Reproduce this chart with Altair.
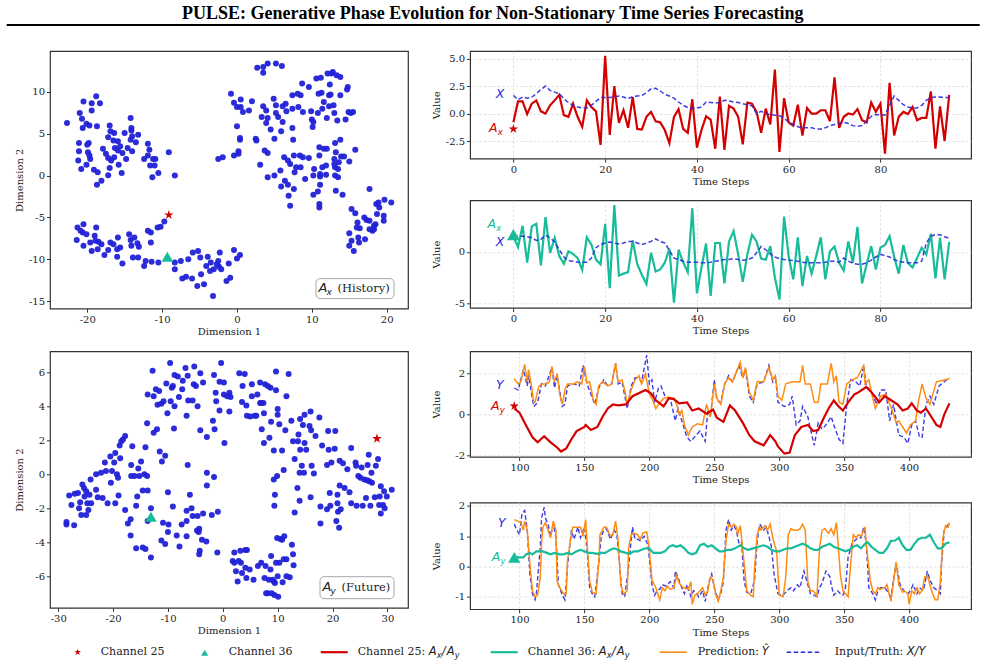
import altair as alt
import pandas as pd

TITLE = "PULSE: Generative Phase Evolution for Non-Stationary Time Series Forecasting"

# ---------------- t-SNE embeddings (Dimension 1, Dimension 2) ----------------
hist_points = [
    (-22.7, 6.3), (-21.0, 7.5), (-20.5, 8.85), (-20.7, 6.8), (-20.6, 5.7), (-21.1, 3.9), (-21.1, 2.9),
    (-21.2, 1.8), (-20.8, 0.8), (-20.1, 6.2), (-19.7, 6.0), (-19.4, 8.65), (-19.4, 7.8), (-18.8, 9.5),
    (-18.3, 8.65), (-18.7, 5.9), (-20.0, 3.7), (-19.8, 3.9), (-19.9, 2.8), (-19.7, 2.4), (-19.6, 2.0),
    (-20.1, 1.3), (-19.1, 0.7), (-18.6, 0.4), (-18.7, -1.1), (-18.1, -0.6), (-17.9, 3.2), (-17.5, 2.6),
    (-17.2, 2.1), (-17.2, 4.6), (-17.0, 6.0), (-16.9, 5.3), (-16.4, 5.1), (-15.9, 4.1), (-16.5, 4.2),
    (-16.8, 1.8), (-17.0, 0.9), (-17.2, 0.05), (-16.4, 2.2), (-16.3, 3.3), (-15.9, 3.0), (-15.6, 3.5),
    (-15.8, 1.3), (-15.4, 0.3), (-15.0, 5.1), (-14.8, 2.0), (-15.3, 2.7), (-14.6, 3.3), (-14.2, 6.9),
    (-14.1, 5.7), (-14.1, 5.4), (-14.0, 4.7), (-14.2, 4.3), (-14.0, 2.9), (-13.5, 4.0), (-13.2, 4.9),
    (-11.9, 3.8), (-11.7, 3.1), (-12.4, 2.0), (-11.9, 2.4), (-11.6, 1.2), (-11.2, 2.0), (-11.0, 1.2),
    (-10.9, 2.0), (-11.3, -0.2), (-10.5, 0.3), (-9.1, 2.8), (-8.3, 0.0),
    (-21.3, -6.2), (-21.4, -7.7), (-20.5, -5.8), (-20.6, -6.8), (-20.9, -6.6), (-20.1, -7.0), (-20.5, -8.4),
    (-19.6, -8.0), (-19.4, -9.0), (-19.0, -7.2), (-18.9, -7.8), (-18.8, -6.2), (-18.5, -7.9), (-18.6, -8.8),
    (-18.1, -8.2), (-17.7, -9.5), (-17.2, -8.9), (-16.9, -8.0), (-16.5, -8.2), (-16.0, -8.8), (-15.9, -7.4),
    (-15.6, -8.6), (-16.0, -9.7), (-15.3, -10.5), (-14.4, -7.0), (-14.2, -7.7), (-14.1, -8.4), (-13.7, -7.4),
    (-13.3, -8.1), (-13.9, -9.8), (-13.1, -8.5), (-13.2, -9.8), (-11.9, -6.6), (-11.5, -6.8), (-11.5, -8.0),
    (-12.4, -10.8), (-12.2, -10.2), (-11.4, -10.3), (-10.5, -10.4), (-10.6, -6.2), (-10.2, -6.1), (-9.7, -5.5),
    (-8.3, -10.4), (-8.3, -11.2), (-7.5, -10.2), (-7.3, -12.3), (-6.8, -12.1), (-6.5, -10.0), (-6.0, -12.3),
    (-5.9, -9.2), (-5.3, -13.2), (-5.2, -9.0), (-4.9, -9.8), (-4.8, -11.8), (-4.4, -13.0), (-4.1, -10.8),
    (-3.9, -9.7), (-3.6, -11.4), (-3.5, -10.4), (-3.2, -14.4), (-3.1, -11.2), (-2.5, -10.2), (-2.4, -10.9),
    (-2.3, -9.2), (-2.1, -11.2), (-2.7, -10.6), (-1.4, -12.6), (-1.1, -10.5), (-0.9, -12.2), (-0.4, -8.9),
    (0.0, -9.9), (0.4, -9.5),
    (2.7, 12.9), (3.5, 13.0), (3.5, 12.3), (4.1, 13.4), (5.2, 13.4), (6.0, 13.1), (-0.8, 9.8), (-0.4, 8.7),
    (0.0, 8.2), (0.5, 9.1), (0.5, 8.2), (0.8, 7.6), (1.6, 7.8), (2.0, 8.9), (0.0, 5.9), (0.4, 4.5), (0.4, 4.3),
    (0.2, 2.9), (-0.4, 2.4), (0.2, 2.6), (-2.5, 2.0), (-1.9, 2.2), (2.5, 4.4), (2.6, 4.2), (3.1, 1.3),
    (3.3, 7.0), (3.5, 8.3), (3.9, 7.8), (3.7, 3.0), (4.1, 2.7), (3.9, 6.3), (4.1, 6.9), (4.1, -0.2),
    (4.5, 5.5), (4.9, 9.2), (5.2, 8.4), (5.2, 7.5), (5.5, 7.0), (5.0, 4.4), (5.0, 0.0), (5.8, 0.6), (5.9, 5.3),
    (6.1, 6.4), (6.1, 8.3), (6.5, 8.6), (6.6, 7.7), (6.3, 2.2), (5.9, -1.3), (6.4, -0.6), (6.8, -1.1),
    (6.9, -2.4), (7.1, -3.6), (6.8, 1.8), (7.1, 1.4), (7.4, 8.0), (7.4, 5.7), (7.5, 4.3), (7.4, 9.6),
    (7.6, 2.4), (7.7, 0.4), (7.9, 1.0), (7.6, -1.6), (8.1, 9.8), (8.2, 8.2), (8.4, 2.4), (8.5, 1.0),
    (8.5, 9.6), (8.7, 11.0), (8.8, 7.6), (8.8, 2.2), (9.1, -0.4), (9.6, 2.1), (9.6, 10.6), (9.9, 7.7),
    (10.0, 6.7), (10.1, 5.8), (10.2, 6.4), (10.3, 0.8), (10.2, 0.0), (10.2, -2.3), (10.6, 11.6), (10.8, -1.9),
    (10.8, 7.5), (10.9, 9.8), (11.0, 2.4), (11.0, 3.4), (11.1, 0.2), (11.1, -0.1), (11.1, -1.1), (11.0, -3.4),
    (11.0, -3.8), (11.2, 11.7), (11.3, 9.9), (11.6, 8.8), (11.4, 8.0), (11.4, 1.0), (11.6, 3.2), (11.9, 1.2),
    (12.0, 3.2), (12.0, 6.9), (11.9, 0.1), (12.1, 12.2), (12.3, 9.6), (12.3, 8.3), (12.4, 10.9), (12.5, 9.7),
    (12.6, 12.2), (12.8, 12.4), (12.9, 8.4), (13.0, 7.5), (13.0, 2.0), (13.0, 1.4), (13.1, 3.9), (13.2, 2.8),
    (13.1, 1.0), (13.1, 0.0), (13.2, -1.8), (13.3, 12.0), (13.4, 6.6), (13.5, -0.2), (13.8, 4.3), (13.8, 11.8),
    (13.8, 9.6), (13.5, 0.8), (13.9, 2.3), (13.6, 1.6), (14.1, -2.3), (14.3, 2.3), (14.5, 6.7), (14.7, 10.3),
    (14.8, 10.6), (14.9, 7.6), (15.0, 1.7), (15.2, 7.5), (15.5, 7.6), (15.8, 3.1), (17.7, -1.6),
    (15.0, -6.9), (15.3, -4.0), (15.8, -4.5), (15.0, -8.4), (15.3, -7.8), (15.6, -9.0), (16.0, -6.2),
    (16.1, -5.6), (16.2, -7.4), (16.3, -8.0), (16.4, -6.3), (17.0, -5.0), (17.1, -7.6), (17.3, -5.3),
    (17.7, -5.4), (17.7, -6.4), (18.1, -6.6), (18.3, -6.4), (18.5, -5.8), (18.6, -3.4), (18.7, -4.6),
    (18.9, -3.2), (19.0, -3.8), (19.6, -4.8), (19.6, -5.4), (19.7, -2.9), (20.6, -3.2), (18.3, -6.0),
]
hist_ch25 = (-9.1, -4.7)
hist_ch36 = (-9.3, -9.7)

fut_points = [
    (-28.5, -2.8), (-28.5, -2.95), (-27.1, -3.0), (-28.0, -1.25), (-27.6, -1.8), (-27.0, -1.15), (-26.4, -1.1),
    (-26.2, -2.0), (-26.0, -1.65), (-25.8, -2.4), (-25.6, -0.6), (-25.3, -0.8), (-25.2, -1.3), (-24.9, -1.0),
    (-24.9, -2.4), (-24.7, -1.7), (-24.5, -2.1), (-24.3, -1.2), (-24.1, -0.3), (-24.0, -1.7), (-23.1, 0.0),
    (-23.1, -0.9), (-22.8, -1.35), (-22.2, 0.1), (-21.9, -1.4), (-21.5, 0.7), (-21.3, 0.2), (-21.0, -1.7),
    (-20.5, 1.05), (-20.4, -0.5), (-20.2, 0.2), (-19.8, 0.7), (-19.6, -1.7), (-19.6, 1.25), (-19.3, 0.0),
    (-19.1, -0.2), (-19.0, -1.25), (-18.8, 1.7), (-18.7, 0.95), (-18.5, 1.95), (-18.2, 2.05), (-17.8, 2.25),
    (-17.8, -2.1),
    (-17.3, -2.9), (-16.8, -2.65), (-16.8, -3.6), (-16.7, 0.55), (-16.7, -0.1), (-16.5, 1.65), (-16.1, -0.1),
    (-15.8, -1.85), (-15.8, -4.35), (-15.6, -1.3), (-15.4, 0.35), (-15.2, -0.1), (-14.9, 0.75), (-14.6, -0.95),
    (-14.3, 0.0), (-14.6, -4.3), (-14.1, 1.6), (-14.1, -4.4), (-13.8, -0.1), (-13.8, 3.0), (-13.7, -0.95),
    (-13.7, -2.75), (-13.7, 4.7), (-13.1, -4.9), (-13.1, -2.0), (-12.8, 6.1), (-12.6, 4.6), (-12.6, 2.45),
    (-12.2, 5.0), (-12.0, 2.65), (-11.9, 4.1), (-11.6, 4.9), (-11.5, 1.35), (-11.2, 4.15), (-11.1, 0.75),
    (-10.9, -2.85), (-10.8, 4.3), (-10.5, 1.1), (-11.2, -3.9), (-10.5, -4.1), (-10.3, 5.35), (-10.1, 3.6),
    (-10.0, -1.05), (-9.9, -2.95), (-10.0, -3.4), (-9.6, 6.55), (-9.5, 4.3), (-9.3, 5.1), (-9.1, 5.2),
    (-9.1, -1.9), (-8.9, 2.7), (-8.8, 4.0), (-8.8, 5.85), (-8.4, -3.6), (-8.2, 5.75), (-8.0, 4.55),
    (-7.9, -4.25), (-7.5, -2.95), (-7.4, 5.0), (-7.3, 5.5), (-6.8, 6.25), (-6.6, 3.45), (-6.6, -2.15),
    (-6.6, -3.65), (-6.6, -2.75), (-6.4, 0.55), (-6.4, 5.8), (-6.3, 4.35), (-6.0, -1.2), (-5.7, -2.0),
    (-5.5, -2.45), (-5.5, 4.35), (-5.3, 5.3), (-5.2, 6.35), (-4.9, 5.2), (-4.7, -3.3), (-4.6, -2.45),
    (-4.6, 4.0), (-4.4, -3.4), (-4.3, -3.2), (-4.3, -4.7), (-4.2, -4.5), (-4.1, 5.95), (-4.1, 2.6),
    (-3.8, -3.85), (-3.6, -2.3), (-3.6, 5.4), (-3.0, -3.95), (-2.9, 2.2), (-2.9, -0.65), (-2.9, 0.1),
    (-2.0, -2.4), (-1.8, 3.15), (-1.6, -0.15), (-1.5, 2.65), (-1.6, 5.85), (-1.3, 4.8), (-1.2, 4.3),
    (-1.0, -4.6), (-0.9, -2.2), (-0.6, 5.45), (-0.6, 3.75), (-0.3, 6.55), (0.2, 5.4), (0.2, 4.7), (0.3, 1.85),
    (0.8, 4.6), (1.2, 4.8), (1.2, 3.7), (1.4, 4.55),
    (1.8, -5.1), (2.1, -4.6), (2.1, -5.2), (2.4, -5.7), (2.7, -6.3), (2.9, -5.1), (3.2, -4.5), (3.3, -5.2),
    (3.5, -5.8), (4.1, -4.45), (4.1, -5.5), (4.3, -6.1), (4.4, -4.45), (4.9, -5.6), (5.6, -6.2), (6.4, -5.4),
    (7.0, -5.2), (7.6, -6.1), (7.8, -5.4), (7.9, -7.0), (8.2, -7.0), (8.4, -6.2), (8.7, -5.6), (8.8, -4.8),
    (8.9, -7.0), (9.1, -6.2), (9.3, -6.3), (9.4, -7.1), (9.5, -6.4), (9.7, -5.2), (9.9, -3.75), (10.0, -6.0),
    (10.1, -7.2), (10.3, -5.2), (10.5, -3.8), (10.8, -3.85), (10.9, -6.35), (11.1, -5.0), (11.2, -3.65),
    (11.6, -5.0), (11.6, -6.0), (12.2, -6.05), (12.6, -4.15), (12.8, -4.7), (12.9, -5.35),
    (3.0, 5.95), (4.0, 5.9), (3.6, 5.2), (3.5, 4.25), (4.3, 4.05), (4.4, 3.45), (5.0, 3.4), (5.3, 5.3),
    (5.3, 4.6), (5.8, 3.45), (6.1, 3.45), (6.3, 4.7), (6.8, 5.4), (6.8, 4.2), (7.0, 4.2), (7.4, 4.2),
    (7.5, 3.6), (7.1, 2.65), (7.5, 1.85), (7.7, 5.3), (8.2, 5.2), (8.5, 2.15), (8.7, 5.1), (8.8, 3.1),
    (9.3, 1.4), (9.3, -0.3), (9.4, -1.85), (9.5, -1.2), (9.7, 6.05), (9.7, 4.95), (9.9, -0.1), (10.0, 3.5),
    (10.0, 3.85), (10.3, 2.95), (10.8, 1.4), (11.1, 0.25), (11.4, 2.6), (11.6, 4.6), (12.0, 5.9), (12.5, 3.15),
    (12.8, 1.95), (13.1, 0.9), (13.1, -2.25), (13.6, -0.8), (13.7, 1.95), (13.8, 2.35), (14.0, -1.55),
    (14.0, 0.1), (14.1, 3.25), (14.1, 1.45), (14.4, 0.5), (14.6, 2.9), (14.8, 0.1), (14.9, 1.85), (14.9, 3.5),
    (15.2, 1.45), (15.8, 2.85), (16.0, 3.7), (16.0, -1.35), (16.1, 2.6), (16.2, 0.5), (16.6, 0.05),
    (16.9, 2.25), (17.6, 3.35), (17.8, -2.9), (17.8, -1.9), (18.1, 1.7), (19.0, -2.05), (19.0, 0.55),
    (19.2, 2.55), (19.3, 1.45), (19.5, -1.1), (19.6, -1.85), (19.8, 0.7), (20.4, 1.5), (20.5, 2.55),
    (20.7, -2.75), (20.9, -1.2), (20.9, -1.7), (21.0, -2.2), (21.2, -3.15), (21.3, -0.65), (21.3, 0.8),
    (21.5, -2.05), (21.9, 0.65), (22.2, -0.8), (22.7, 0.3), (23.1, -1.05), (23.4, 1.55), (23.4, -1.7),
    (24.2, 0.7), (24.3, 0.5), (24.4, -1.85), (24.7, -0.1), (25.1, -0.2), (25.3, 0.4), (25.5, -1.85),
    (25.8, -0.3), (26.1, -1.4), (26.3, -0.35), (26.4, 0.55), (26.6, 1.15), (26.7, -0.4), (26.9, -1.85),
    (27.1, 0.1), (27.2, -0.5), (27.7, -1.35), (27.9, 0.5), (28.3, 0.9), (28.5, -1.8), (28.6, -1.3),
    (28.8, -0.7), (28.8, -2.3), (29.2, -1.8), (29.4, -1.0), (29.5, -2.0), (29.9, -1.3), (30.8, -0.9),
]
fut_ch25 = (28.1, 2.1)
fut_ch36 = (-13.1, -2.5)

# ---------------- history window (t = 0 .. 95) ----------------
hist_ch25_values = [
    -0.8, 1.1, 1.1, -0.05, 0.9, 1.2, 0.2, 0.0, 0.75, 1.2,
    1.7, -0.15, -0.3, 0.9, -0.3, -1.2, 1.2, 0.6, 0.2, -2.85,
    5.25, -1.95, 2.5, -0.85, 0.3, -1.3, 1.5, -1.4, -1.45, -0.3,
    0.15, -0.7, -0.8, -1.5, -2.7, -0.3, 0.4, -1.4, -1.75, 1.3,
    -3.1, -1.5, -0.25, -0.55, -3.2, 1.55, -3.3, 0.7, 0.45, -0.3,
    -2.8, 1.0, 0.9, 0.15, -1.75, 0.45, -1.0, 4.0, -3.5, 1.4,
    -0.8, -1.1, 0.8, -2.0, 0.5, 0.0, 0.0, 0.3, 0.3, -0.7,
    3.3, -1.3, -0.3, 0.0, -0.1, 0.4, -0.6, -0.8, 1.0, 0.15,
    0.9, -3.65, 2.8, -2.0, -0.3, 0.15, -0.05, 0.6, -0.6, -0.4,
    -0.4, 2.0, -3.2, 0.65, -2.5, 1.7,
]
hist_x25_values = [
    1.65, 1.25, 1.5, 1.4, 1.5, 1.8, 2.2, 2.5, 2.1, 1.95,
    1.8, 1.35, 1.0, 0.75, 0.6, 0.5, 0.5, 0.75, 1.1, 1.45,
    1.45, 1.45, 1.5, 1.6, 1.5, 1.35, 1.55, 1.6, 1.65, 1.9,
    2.25, 2.3, 2.05, 1.75, 1.6, 1.4, 1.05, 0.75, 0.55, 0.45,
    0.5, 0.6, 1.05, 1.0, 0.95, 1.0, 1.2, 1.15, 1.05, 1.0,
    0.9, 0.8, 0.7, 0.0, 0.2, 0.0, -0.1, -0.15, -0.2, -0.4,
    -0.8, -1.0, -1.2, -1.3, -1.3, -1.3, -1.4, -1.4, -1.3, -1.1,
    -1.0, -0.9, -0.8, -0.9, -1.1, -1.15, -1.1, -0.7, -0.25, -0.1,
    -0.1, -0.15, 0.75, 1.6, 1.2, 0.8, 0.6, 0.5, 0.5, 0.75,
    1.2, 1.45, 1.5, 1.5, 1.45, 1.45,
]
hist_ch36_values = [
    1.5, 0.45, 2.5, -1.05, 2.45, 2.7, -1.3, 3.35, -0.1, 1.35,
    -0.4, -1.15, 0.05, -0.2, -0.6, -1.75, 1.4, 0.7, -0.75, -1.2,
    2.7, -3.5, 4.5, -2.3, -2.1, -1.95, 1.1, -1.2, -2.2, -3.1,
    -0.1, -1.9, -1.7, -1.05, 0.3, -4.9, 0.2, -1.0, -1.95, 4.2,
    -4.0, -1.5, 0.8, -4.25, 0.85, 0.85, -3.05, 1.0, 2.0, -0.25,
    -2.9, -0.25, 1.65, 1.0, -0.65, -0.75, 0.55, -2.5, -4.6, 3.4,
    -0.4, -2.65, 1.4, -3.3, -0.4, -2.1, -0.4, 1.4, -2.65, 0.05,
    0.5, -1.05, -1.8, 1.0, -1.05, 2.4, -3.05, -1.2, 0.55, -1.7,
    0.4, 0.65, 1.5, -0.5, -2.1, 0.65, -1.1, -1.5, -0.6, 0.4,
    -0.25, 1.75, -2.55, 1.35, -2.65, 0.95,
]
hist_x36_values = [
    1.5, 1.5, 1.5, 1.45, 1.35, 1.1, 1.2, 1.6, 1.35, 0.95,
    0.2, -0.5, -0.85, -0.9, -1.0, -1.0, -1.0, -0.6, 0.4, 0.7,
    0.85, 0.95, 0.85, 0.75, 0.85, 1.0, 1.0, 0.85, 0.7, 0.85,
    1.0, 1.25, 1.0, 0.85, 0.15, -0.6, -0.75, -0.9, -1.0, -1.0,
    -1.0, -1.05, -1.05, -1.0, -0.9, -0.85, -0.75, -0.75, -0.65, -0.75,
    -0.8, -0.75, -0.6, -0.1, 0.5, 0.2, -0.2, -0.5, -0.65, -0.75,
    -0.8, -0.85, -0.9, -1.0, -1.05, -1.05, -1.05, -1.05, -1.0, -0.9,
    -0.9, -1.0, -0.6, -0.9, -1.1, -1.2, -1.2, -1.05, -0.8, -0.5,
    -0.25, -0.35, -0.5, -0.75, -0.9, -1.0, -1.05, -1.05, -1.05, -0.9,
    0.85, 1.5, 1.65, 1.65, 1.45, 1.3,
]
hist_steps = list(range(len(hist_ch25_values)))

# ---------------- forecast window (t = 96 .. 431) as (step, value) ----------------
fut_ch25_curve = [
    (96, 0.3), (100, 0.1), (104, -0.4), (110, -1.1), (114, -1.35), (119, -1.05), (124, -1.35), (129, -1.6),
    (132, -1.8), (136, -1.65), (140, -1.2), (144, -0.8), (150, -0.6), (151, -0.5), (155, -0.75), (160, -0.6),
    (164, -0.1), (168, 0.3), (172, 0.5), (176, 0.45), (182, 0.5), (187, 0.9), (197, 1.2), (201, 1.05),
    (205, 0.7), (211, 0.4), (215, 0.8), (219, 0.75), (223, 0.55), (229, 0.6), (233, 0.2), (238, 0.3),
    (244, 0.05), (249, 0.25), (252, -0.15), (257, -0.35), (262, 0.45), (266, 0.2), (272, -0.4), (277, -1.0),
    (281, -1.3), (288, -1.5), (293, -1.0), (297, -1.3), (299, -1.55), (304, -1.9), (308, -1.85), (312, -1.0),
    (317, -0.6), (322, -0.5), (326, -0.8), (330, -0.75), (334, -0.2), (338, 0.3), (342, 0.7), (345, 0.45),
    (349, 0.2), (353, 0.6), (358, 1.0), (360, 1.05), (367, 1.35), (371, 1.1), (374, 0.85), (377, 0.6),
    (381, 0.9), (385, 0.75), (391, 0.5), (395, 0.2), (399, 0.3), (402, 0.55), (406, 0.2), (409, 0.1),
    (413, 0.3), (421, -0.5), (424, -0.6), (427, 0.0), (431, 0.55),
]
fut_truth25_curve = [
    (96, 1.3), (99, 1.2), (103, 2.2), (106, 1.4), (107, 1.9), (111, 0.4), (114, 0.6), (117, 1.5), (120, 1.4),
    (125, 2.3), (127, 1.3), (129, 1.9), (133, 0.4), (135, 0.5), (137, 1.4), (142, 1.5), (146, 1.4), (149, 2.4),
    (152, 1.5), (155, 1.0), (158, 0.5), (161, 1.3), (165, 1.7), (168, 1.4), (171, 1.5), (174, 2.5), (176, 1.5),
    (179, 1.6), (183, 0.3), (186, 1.4), (189, 1.8), (192, 1.8), (194, 1.6), (198, 2.9), (200, 1.5), (202, 1.7),
    (204, 0.6), (207, 1.3), (209, 1.4), (212, 0.9), (216, 0.8), (220, -0.3), (222, 0.3), (225, -0.3),
    (229, -1.1), (232, -1.3), (236, -1.0), (239, -0.8), (243, -1.3), (245, 0.2), (247, -0.1), (250, 1.7),
    (252, 0.7), (255, 0.6), (258, 1.5), (261, 1.9), (264, 1.6), (269, 2.4), (272, 1.8), (274, 2.2), (277, 0.9),
    (280, 0.6), (283, 1.5), (288, 1.6), (292, 2.4), (295, 1.6), (297, 1.9), (299, 0.6), (304, 0.4), (308, 0.5),
    (310, 0.9), (313, -0.5), (316, -0.3), (318, 0.4), (322, -0.1), (324, -0.7), (327, -1.5), (330, -0.4),
    (333, -0.7), (336, -0.5), (340, -0.1), (342, -0.5), (346, -1.2), (349, -1.4), (352, 0.5), (355, 1.7),
    (359, 1.6), (362, 1.4), (365, 2.4), (367, 1.4), (370, 1.2), (373, 0.8), (375, 0.5), (378, 1.2), (382, 1.2),
    (385, -0.3), (388, 0.5), (392, -1.0), (396, -1.1), (399, -1.4), (402, -0.5), (405, -0.3), (408, -1.1),
    (410, -1.1), (413, 0.5), (416, 0.9), (419, 0.5), (423, 1.4), (431, 1.8),
]
fut_pred25_curve = [
    (96, 1.75), (99, 1.5), (101, 1.6), (104, 2.45), (106, 1.6), (107, 2.2), (109, 1.5), (111, 0.6), (112, 0.6),
    (115, 1.4), (118, 1.5), (121, 1.5), (123, 1.6), (125, 2.35), (127, 1.6), (129, 2.0), (131, 1.0), (133, 0.5),
    (135, 1.2), (137, 1.5), (142, 1.5), (144, 1.6), (148, 1.5), (150, 2.35), (152, 1.55), (154, 1.6), (157, 0.7),
    (159, 0.5), (161, 1.4), (164, 1.6), (168, 1.4), (171, 1.5), (174, 2.5), (176, 1.6), (179, 1.7), (181, 1.2),
    (183, 0.5), (186, 1.2), (189, 1.7), (192, 1.9), (194, 1.5), (197, 2.0), (200, 1.0), (202, 0.8), (205, 0.3),
    (207, 0.5), (211, 0.8), (215, 0.85), (219, 0.8), (221, 0.5), (223, 0.0), (225, 0.2), (227, -0.5),
    (230, -1.0), (233, -0.6), (237, -0.45), (241, -0.5), (244, 0.5), (247, -0.1), (250, 1.5), (252, 0.8),
    (255, 0.5), (258, 1.5), (261, 1.8), (264, 1.6), (270, 2.55), (272, 1.8), (274, 2.3), (277, 1.1), (280, 0.7),
    (283, 1.6), (288, 1.6), (292, 2.3), (295, 1.7), (297, 1.9), (299, 0.9), (302, 0.7), (305, 1.5), (310, 1.6),
    (316, 1.6), (318, 2.4), (320, 1.5), (324, 1.5), (327, 0.6), (330, 0.6), (332, 1.5), (337, 1.5), (340, 2.5),
    (342, 1.6), (344, 1.9), (346, 0.6), (349, 0.5), (352, 1.5), (356, 1.7), (360, 1.8), (365, 2.4), (366, 1.5),
    (369, 1.7), (372, 0.8), (374, 0.3), (378, 0.9), (382, 1.0), (387, 0.2), (390, -0.4), (392, -0.3),
    (398, -0.9), (401, -0.5), (405, -0.3), (407, 0.6), (410, 1.5), (413, 0.8), (416, 0.5), (421, 1.6), (431, 1.75),
]
fut_ch36_curve = [
    (96, 0.32), (100, 0.3), (103, 0.3), (105, 0.4), (108, 0.45), (110, 0.4), (113, 0.5), (118, 0.5), (121, 0.45),
    (124, 0.4), (127, 0.45), (131, 0.4), (134, 0.4), (137, 0.45), (140, 0.4), (144, 0.5), (147, 0.55), (150, 0.5),
    (153, 0.45), (156, 0.45), (160, 0.42), (163, 0.45), (166, 0.45), (170, 0.55), (173, 0.6), (176, 0.55),
    (178, 0.5), (182, 0.45), (185, 0.42), (188, 0.5), (191, 0.5), (194, 0.55), (197, 0.6), (200, 0.6),
    (203, 0.45), (206, 0.45), (209, 0.45), (212, 0.5), (215, 0.65), (218, 0.7), (221, 0.65), (224, 0.7),
    (227, 0.6), (230, 0.45), (233, 0.4), (236, 0.45), (239, 0.7), (242, 0.75), (245, 0.65), (248, 0.7),
    (251, 0.6), (254, 0.5), (257, 0.5), (260, 0.55), (263, 0.55), (266, 0.6), (270, 0.7), (273, 0.6),
    (276, 0.55), (280, 0.6), (284, 0.65), (288, 0.7), (291, 0.65), (294, 0.55), (297, 0.5), (300, 0.5),
    (303, 0.55), (306, 0.6), (309, 0.6), (312, 0.65), (315, 0.7), (318, 0.75), (321, 0.7), (324, 0.6),
    (327, 0.55), (330, 0.55), (333, 0.65), (336, 0.7), (339, 0.75), (342, 0.65), (345, 0.6), (348, 0.55),
    (351, 0.5), (354, 0.55), (357, 0.65), (360, 0.7), (363, 0.6), (366, 0.75), (368, 0.8), (371, 0.65),
    (374, 0.55), (377, 0.45), (380, 0.45), (383, 0.6), (386, 0.85), (389, 0.85), (392, 0.95), (395, 0.7),
    (398, 0.55), (401, 0.55), (404, 0.75), (407, 0.9), (410, 0.95), (413, 0.95), (416, 1.05), (419, 0.8),
    (422, 0.6), (425, 0.6), (428, 0.75), (431, 0.8),
]
fut_truth36_curve = [
    (96, 1.4), (98, 1.2), (100, 1.05), (102, 1.75), (104, 1.85), (106, 1.2), (108, -0.25), (110, -0.9),
    (112, -1.1), (113, -0.9), (116, 0.6), (117, 1.6), (119, 1.95), (120, 1.6), (122, 1.4), (124, 1.0),
    (126, 1.4), (128, 1.0), (130, -0.6), (133, -0.95), (135, -1.1), (137, 0.0), (140, 1.2), (142, 0.9),
    (145, 1.3), (147, 0.95), (150, 1.3), (152, 0.6), (154, -0.7), (156, -0.9), (158, -1.0), (161, 0.1),
    (163, 1.0), (165, 1.2), (167, 1.25), (170, 0.9), (173, 1.2), (175, 1.05), (177, 0.1), (179, -0.9),
    (181, -1.0), (184, 0.0), (187, 1.3), (189, 0.9), (191, 0.9), (193, 0.85), (196, 1.0), (199, 0.7),
    (202, -0.6), (204, -0.95), (206, -0.8), (208, -0.75), (210, -0.6), (213, -0.65), (216, -0.5), (219, -0.7),
    (220, -0.15), (222, -0.35), (224, -0.6), (227, -0.9), (229, -0.6), (232, -1.0), (234, -0.8), (236, -0.85),
    (238, -1.0), (241, -0.8), (243, -1.15), (246, -0.5), (248, -0.25), (250, -0.7), (253, -1.1), (255, -0.9),
    (257, -0.5), (259, 1.2), (261, 1.55), (263, 1.2), (265, 1.35), (267, 1.2), (269, 0.75), (271, 0.8),
    (273, -0.5), (275, -0.85), (278, -0.9), (281, -0.45), (283, 0.85), (285, 1.4), (288, 1.2), (290, 1.3),
    (292, 1.0), (294, 0.65), (296, -0.25), (299, -0.9), (302, -0.95), (304, -0.9), (306, -0.8), (309, -0.7),
    (311, -0.8), (314, -0.6), (316, -0.7), (319, -0.15), (321, -0.45), (324, -0.9), (327, -0.95), (329, -1.0),
    (331, -0.7), (333, -0.55), (336, -0.15), (339, -0.35), (340, -0.6), (342, -0.95), (345, -0.8), (347, -0.9),
    (349, -0.95), (351, -0.7), (353, 0.3), (356, 0.75), (358, 0.85), (361, 0.95), (363, 0.95), (365, 1.3),
    (367, 0.75), (369, -0.7), (372, -0.9), (374, -1.1), (376, -0.8), (378, -0.7), (381, -0.7), (383, -0.8),
    (386, -1.0), (388, -0.45), (390, 0.1), (393, -0.6), (396, -0.8), (399, -0.9), (401, -0.8), (403, -0.6),
    (406, -0.9), (408, -0.7), (411, -0.8), (414, -0.15), (416, -0.45), (419, -0.7), (422, -0.8), (424, -0.9),
    (425, 0.1), (427, 1.2), (429, 1.3), (431, 1.45),
]
fut_pred36_curve = [
    (96, 1.55), (101, 1.45), (103, 1.2), (104, 1.5), (106, 1.2), (108, 0.1), (110, -0.8), (112, -1.0),
    (114, -0.95), (116, -0.35), (117, 0.75), (118, 1.3), (120, 1.45), (122, 1.2), (124, 0.95), (126, 1.5),
    (128, 1.2), (129, -0.5), (131, -0.7), (134, -0.9), (136, -0.9), (137, 0.2), (139, 0.8), (141, 1.3),
    (144, 1.3), (147, 1.3), (149, 1.0), (151, 1.55), (152, 0.8), (154, -0.45), (156, -0.85), (159, -0.9),
    (161, 0.1), (162, 1.05), (165, 1.3), (167, 1.3), (170, 1.0), (172, 1.05), (174, 1.5), (176, 0.85),
    (178, -0.6), (180, -0.9), (183, -0.8), (184, 0.6), (186, 1.05), (188, 1.1), (191, 1.05), (193, 0.9),
    (195, 1.1), (198, 1.15), (200, 0.55), (202, -0.45), (205, -0.7), (208, -1.1), (210, -0.7), (212, -0.8),
    (214, -0.65), (216, -0.75), (219, -0.7), (221, -0.3), (223, -0.55), (226, -0.7), (227, -0.7), (230, -0.75),
    (232, -0.5), (233, -1.25), (235, -0.95), (237, -0.9), (239, -0.8), (241, -0.7), (243, -0.95), (245, -0.8),
    (247, -0.35), (249, -0.45), (251, -0.9), (253, -1.15), (255, -0.8), (257, -0.35), (259, 0.85), (261, 1.4),
    (263, 1.3), (265, 1.4), (267, 1.3), (268, 1.05), (270, 1.35), (273, 0.1), (275, -0.8), (278, -0.95),
    (280, -1.0), (281, -0.05), (283, 1.05), (285, 1.3), (286, 1.2), (289, 1.35), (291, 1.2), (293, 1.4),
    (295, 0.95), (298, 0.5), (299, -0.25), (300, -0.95), (303, -1.0), (305, -0.35), (307, 1.05), (309, 1.25),
    (311, 1.2), (314, 1.2), (316, 1.25), (318, 1.4), (320, 1.2), (322, -0.5), (324, -0.8), (326, -0.8),
    (328, -0.9), (329, -1.0), (331, 0.6), (333, 1.2), (335, 1.25), (338, 1.1), (340, 1.25), (342, 1.05),
    (344, 1.45), (345, 0.95), (347, -0.25), (349, -0.8), (351, -0.9), (353, -1.0), (355, 0.1), (357, 1.05),
    (359, 0.95), (361, 1.05), (363, 1.0), (366, 1.3), (367, 0.75), (370, -0.45), (372, -0.8), (374, -0.9),
    (376, -0.7), (378, -0.75), (381, -0.7), (383, -0.6), (384, -0.8), (386, -1.15), (388, -0.5), (390, 0.15),
    (392, -0.6), (395, -0.85), (396, -0.8), (399, -0.9), (400, -1.25), (402, -0.8), (404, -0.9), (406, -0.7),
    (408, -0.9), (410, -0.8), (412, -0.35), (414, -0.3), (416, -0.6), (418, -0.9), (420, -1.1), (422, -1.1),
    (424, -0.5), (426, 0.95), (428, 1.35), (430, 1.3), (431, 1.45),
]

# ---------------- styling ----------------
PT_BLUE = "#2121d6"
LINE_BLUE = "#2828e0"
RED = "#d40000"
TEAL = "#17bc9b"
ORANGE = "#ff8c12"
FRAME = "#333333"
GRID = "#d4d4d4"
SERIF = "DejaVu Serif"
MATH = "DejaVu Sans"
STAR = ("M0,-1L0.2245,-0.309L0.951,-0.309L0.363,0.118L0.588,0.809L0,0.382"
        "L-0.588,0.809L-0.363,0.118L-0.951,-0.309L-0.2245,-0.309Z")
ONE = pd.DataFrame({"k": [0]})

# layout (pixels)
X_EXTENT = 15          # tick + label band under every panel
Y_EXT_SCATTER = 23     # tick + label band left of the embedding panels
Y_EXT_SERIES = 26      # tick + label band left of the time-series panels
LEFT_REACH = 43.3      # left margin reserved beside the embedding panels
ORIGIN_X = 49.3        # page x of the embedding panels' left edge
FULL_W = 923.4         # width spanned by the panel grid


def hyphen_labels(fmt):
    return f"replace(format(datum.value, '{fmt}'), '\u2212', '-')"


def marker(df, xe, ye, shape, size, color):
    return alt.Chart(df).mark_point(shape=shape, size=size, filled=True, fill=color,
                                    color=color, opacity=1, strokeWidth=0).encode(x=xe, y=ye)


def scatter_panel(points, ch25, ch36, xdom, ydom, xticks, yticks, w, h,
                  tag_box, tag_sub, tag_word, star_size, tri_size):
    df = pd.DataFrame(points, columns=["d1", "d2"])
    xe = alt.X("d1:Q", scale=alt.Scale(domain=xdom, nice=False, zero=False),
               axis=alt.Axis(values=xticks, title="Dimension 1", labelExpr=hyphen_labels("d"),
                             minExtent=X_EXTENT, maxExtent=X_EXTENT))
    ye = alt.Y("d2:Q", scale=alt.Scale(domain=ydom, nice=False, zero=False),
               axis=alt.Axis(values=yticks, title="Dimension 2", labelExpr=hyphen_labels("d"),
                             minExtent=Y_EXT_SCATTER, maxExtent=Y_EXT_SCATTER))
    dots = alt.Chart(df).mark_circle(size=36, color=PT_BLUE, opacity=0.95).encode(x=xe, y=ye)
    s25 = marker(pd.DataFrame({"d1": [ch25[0]], "d2": [ch25[1]]}), xe, ye, STAR, star_size, RED)
    s36 = marker(pd.DataFrame({"d1": [ch36[0]], "d2": [ch36[1]]}), xe, ye, "triangle-up", tri_size, TEAL)
    x0, x1, y0, y1 = tag_box
    box = alt.Chart(ONE).mark_rect(fill="white", stroke="#a8a8a8", strokeWidth=1,
                                   cornerRadius=4).encode(
        x=alt.value(x0), x2=alt.value(x1), y=alt.value(y0), y2=alt.value(y1))
    ym = (y0 + y1) / 2
    t_a = alt.Chart(ONE).mark_text(font=MATH, fontStyle="italic", fontSize=13, align="left",
                                   baseline="middle", color="#222").encode(
        x=alt.value(x0 + 2.5), y=alt.value(ym - 0.5), text=alt.value("A"))
    t_s = alt.Chart(ONE).mark_text(font=MATH, fontStyle="italic", fontSize=9, align="left",
                                   baseline="middle", color="#222").encode(
        x=alt.value(x0 + 10.5), y=alt.value(ym + 3.5), text=alt.value(tag_sub))
    t_w = alt.Chart(ONE).mark_text(font=SERIF, fontSize=11.5, align="left",
                                   baseline="middle", color="#222").encode(
        x=alt.value(x0 + 21.5), y=alt.value(ym + 0.5), text=alt.value(tag_word))
    # invisible guide that reserves the same left margin for both embedding panels
    reach = alt.Chart(ONE).mark_rect(opacity=0).encode(
        x=alt.value(-LEFT_REACH - 1), x2=alt.value(-LEFT_REACH + 1),
        y=alt.value(h / 2), y2=alt.value(h / 2 + 1))
    return alt.layer(dots, s25, s36, box, t_a, t_s, t_w, reach).properties(width=w, height=h)


def series_panel(lines, marks, labels, xdom, ydom, xticks, yticks, yfmt, w, h):
    grid = dict(grid=True, gridDash=[2.5, 2], gridColor=GRID, gridWidth=0.7)
    xe = alt.X("t:Q", scale=alt.Scale(domain=xdom, nice=False, zero=False),
               axis=alt.Axis(values=xticks, title="Time Steps", labelExpr=hyphen_labels("d"),
                             minExtent=X_EXTENT, maxExtent=X_EXTENT, **grid))
    ye = alt.Y("v:Q", scale=alt.Scale(domain=ydom, nice=False, zero=False),
               axis=alt.Axis(values=yticks, title="Value", labelExpr=hyphen_labels(yfmt),
                             minExtent=Y_EXT_SERIES, maxExtent=Y_EXT_SERIES, **grid))
    layers = []
    for df, color, sw, dash, op in lines:
        kw = dict(color=color, strokeWidth=sw, opacity=op)
        if dash:
            kw["strokeDash"] = dash
        layers.append(alt.Chart(df).mark_line(**kw).encode(x=xe, y=ye))
    for t, v, shape, size, color in marks:
        layers.append(marker(pd.DataFrame({"t": [t], "v": [v]}), xe, ye, shape, size, color))
    for t, v, main, sub, color in labels:
        pos = pd.DataFrame({"t": [t], "v": [v]})
        layers.append(alt.Chart(pos).mark_text(font=MATH, fontStyle="italic", fontSize=12.5,
                                               align="center", baseline="middle", color=color)
                      .encode(x=xe, y=ye, text=alt.value(main)))
        if sub:
            layers.append(alt.Chart(pos).mark_text(font=MATH, fontStyle="italic", fontSize=8.5,
                                                   align="left", baseline="middle", color=color,
                                                   dx=4.5, dy=4)
                          .encode(x=xe, y=ye, text=alt.value(sub)))
    return alt.layer(*layers).properties(width=w, height=h)


def frame(steps, values):
    return pd.DataFrame({"t": steps, "v": values})


def pairs(curve):
    return pd.DataFrame(curve, columns=["t", "v"])


# ---------------- panels ----------------
hist_scatter = scatter_panel(hist_points, hist_ch25, hist_ch36, [-24.97, 22.84], [-15.9, 14.9],
                             [-20, -10, 0, 10, 20], [-15, -10, -5, 0, 5, 10], 358, 257.6,
                             (266, 344, 227.6, 247.6), "x", "(History)", 100, 135)
fut_scatter = scatter_panel(fut_points, fut_ch25, fut_ch36, [-31.5, 33.76], [-7.86, 7.24],
                            [-30, -20, -10, 0, 10, 20, 30], [-6, -4, -2, 0, 2, 4, 6], 358, 256.6,
                            (270, 344, 225.4, 247.4), "y", "(Future)", 105, 135)

HIST_X = [-9.44, 99.77]
FUT_X = [62.0, 447.7]
p1 = series_panel(
    [(frame(hist_steps, hist_ch25_values), RED, 2.2, None, 1),
     (frame(hist_steps, hist_x25_values), LINE_BLUE, 1.5, [4.5, 2.5], 0.9)],
    [(0, -1.4, STAR, 100, RED)],
    [(-2.9, 1.75, "X", "", LINE_BLUE), (-4.4, -1.3, "A", "x", RED)],
    HIST_X, [-4.1, 5.69], [0, 20, 40, 60, 80], [-2.5, 0, 2.5, 5.0], ".1f", 501, 107.6)
p2 = series_panel(
    [(frame(hist_steps, hist_ch36_values), TEAL, 2.2, None, 1),
     (frame(hist_steps, hist_x36_values), LINE_BLUE, 1.5, [4.5, 2.5], 0.9)],
    [(0, 1.65, "triangle-up", 170, TEAL)],
    [(-2.9, 0.95, "X", "", LINE_BLUE), (-4.7, 2.65, "A", "x", TEAL)],
    HIST_X, [-5.4, 4.96], [0, 20, 40, 60, 80], [-5, 0], "d", 501, 107.6)
p3 = series_panel(
    [(pairs(fut_truth25_curve), LINE_BLUE, 1.4, [4.5, 2.5], 0.9),
     (pairs(fut_pred25_curve), ORANGE, 1.5, None, 1),
     (pairs(fut_ch25_curve), RED, 2.2, None, 1)],
    [(96, 0.42, STAR, 100, RED)],
    [(84.8, 1.46, "Y", "", LINE_BLUE), (81.4, 0.4, "A", "y", RED)],
    FUT_X, [-2.06, 3.09], [100, 150, 200, 250, 300, 350, 400], [-2, 0, 2], "d", 501, 105.6)
p4 = series_panel(
    [(pairs(fut_truth36_curve), LINE_BLUE, 1.4, [4.5, 2.5], 0.9),
     (pairs(fut_pred36_curve), ORANGE, 1.5, None, 1),
     (pairs(fut_ch36_curve), TEAL, 2.2, None, 1)],
    [(96, 0.3, "triangle-up", 150, TEAL)],
    [(86.4, 1.45, "Y", "", LINE_BLUE), (82.0, 0.32, "A", "y", TEAL)],
    FUT_X, [-1.41, 2.11], [100, 150, 200, 250, 300, 350, 400], [-1, 0, 1, 2], "d", 501, 106.6)

# ---------------- heading ----------------
head_title = alt.Chart(ONE).mark_text(font="Liberation Serif", fontSize=18, fontWeight="bold",
                                      align="center", baseline="middle", color="black").encode(
    x=alt.value(492 - ORIGIN_X), y=alt.value(14), text=alt.value(TITLE))
head_rule = alt.Chart(ONE).mark_rect(color="black").encode(
    x=alt.value(6 - ORIGIN_X), x2=alt.value(979 - ORIGIN_X), y=alt.value(24), y2=alt.value(26))
header = alt.layer(head_title, head_rule).properties(
    width=FULL_W, height=41.5, view=alt.ViewBackground(stroke="transparent", strokeWidth=0))

# ---------------- legend strip ----------------
LEG_Y = 5.2
leg_layers = [
    marker(ONE, alt.value(77 - ORIGIN_X), alt.value(LEG_Y), STAR, 50, RED),
    marker(ONE, alt.value(204 - ORIGIN_X), alt.value(LEG_Y + 0.5), "triangle-up", 50, TEAL),
]
for x0, x1, color, sw, dash in [(320, 347, RED, 2.2, None), (490, 517, TEAL, 2.2, None),
                                (659, 686, ORANGE, 1.6, None), (786, 819, LINE_BLUE, 1.6, [4.5, 2.5])]:
    kw = dict(color=color, strokeWidth=sw)
    if dash:
        kw["strokeDash"] = dash
    leg_layers.append(alt.Chart(ONE).mark_rule(**kw).encode(
        x=alt.value(x0 - ORIGIN_X), x2=alt.value(x1 - ORIGIN_X), y=alt.value(LEG_Y)))
legend_words = [(100, "Channel 25"), (228, "Channel 36"), (357, "Channel 25:"),
                (527, "Channel 36:"), (697, "Prediction:"), (834, "Input/Truth:")]
legend_math = [(428, "A"), (441, "/"), (446, "A"), (598, "A"), (611, "/"), (616, "A"),
               (761, "\u0176"), (906, "X/Y")]
legend_subs = [(436, "x"), (454, "y"), (606, "x"), (624, "y")]
for x, s in legend_words:
    leg_layers.append(alt.Chart(ONE).mark_text(font=SERIF, fontSize=11, align="left", baseline="middle",
                                               color="#222").encode(
        x=alt.value(x - ORIGIN_X), y=alt.value(LEG_Y), text=alt.value(s)))
for x, s in legend_math:
    leg_layers.append(alt.Chart(ONE).mark_text(font=MATH, fontStyle="italic", fontSize=11.5, align="left",
                                               baseline="middle", color="#222").encode(
        x=alt.value(x - ORIGIN_X), y=alt.value(LEG_Y), text=alt.value(s)))
for x, s in legend_subs:
    leg_layers.append(alt.Chart(ONE).mark_text(font=MATH, fontStyle="italic", fontSize=8, align="left",
                                               baseline="middle", color="#222").encode(
        x=alt.value(x - ORIGIN_X), y=alt.value(LEG_Y + 3.5), text=alt.value(s)))
legend = alt.layer(*leg_layers).properties(
    width=FULL_W, height=12, view=alt.ViewBackground(stroke="transparent", strokeWidth=0))

# ---------------- assembly ----------------
row1 = alt.hconcat(hist_scatter, alt.vconcat(p1, p2, spacing=11.3), spacing=21.1)
row2 = alt.hconcat(fut_scatter, alt.vconcat(p3, p4, spacing=13.3), spacing=21.1)
body = alt.vconcat(row1, row2, spacing=12.3)

chart = alt.vconcat(header, body, legend, spacing=8).properties(
    padding={"left": 5, "top": 0, "right": 0, "bottom": 0},
    background="white",
).configure_view(
    stroke=FRAME, strokeWidth=1.2
).configure_axis(
    domain=False, tickColor=FRAME, tickSize=3.5, tickWidth=1,
    labelFont=SERIF, labelFontSize=10, labelColor="#222", labelPadding=2,
    labelFlush=False, labelOverlap=False,
    titleFont=SERIF, titleFontSize=10, titleFontWeight="normal", titleColor="#222", titlePadding=3,
    grid=False,
)

chart.save("out.html", embed_options={"renderer": "svg", "actions": False})
